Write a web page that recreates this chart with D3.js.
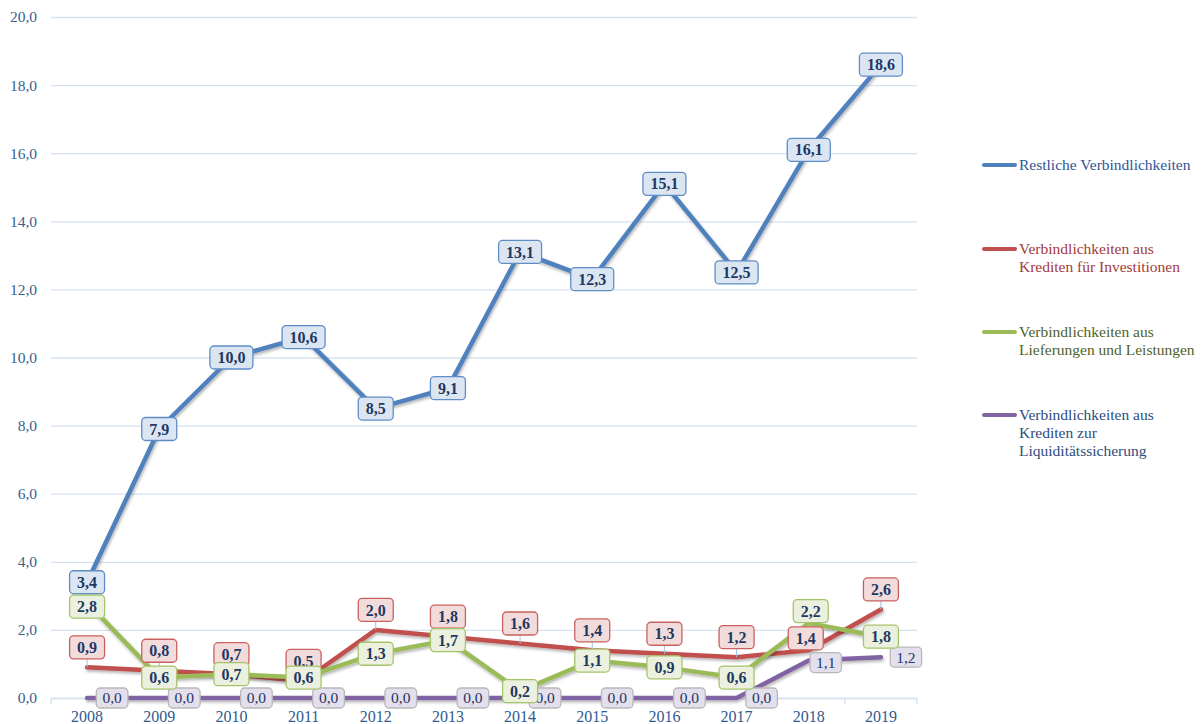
<!DOCTYPE html>
<html>
<head>
<meta charset="utf-8">
<script src="https://cdn.jsdelivr.net/npm/d3@7"></script>
<style>
  body { margin: 0; background: #fff; }
  text { font-family: "Liberation Serif", "DejaVu Serif", serif; }
</style>
</head>
<body>
<div id="chart"></div>
<script>
// data
var years = ["2008","2009","2010","2011","2012","2013","2014","2015","2016","2017","2018","2019"];
var restliche   = [3.4, 7.9, 10.0, 10.6, 8.5, 9.1, 13.1, 12.3, 15.1, 12.5, 16.1, 18.6];
var investition = [0.9, 0.8, 0.7, 0.5, 2.0, 1.8, 1.6, 1.4, 1.3, 1.2, 1.4, 2.6];
var lieferungen = [2.8, 0.6, 0.7, 0.6, 1.3, 1.7, 0.2, 1.1, 0.9, 0.6, 2.2, 1.8];
var liquiditaet = [0.0, 0.0, 0.0, 0.0, 0.0, 0.0, 0.0, 0.0, 0.0, 0.0, 1.1, 1.2];
var yTicks = [0, 2, 4, 6, 8, 10, 12, 14, 16, 18, 20];

var series = [
  {name: ["Restliche Verbindlichkeiten"], values: restliche,
   color: "#4F81BD", fill: "#DCE6F2", stroke: "#5F8DC6", legendColor: "#2F5597",
   bold: true, dx: 0, dy: 0, legendY: 165},
  {name: ["Verbindlichkeiten aus", "Krediten für Investitionen"], values: investition,
   color: "#C0504D", fill: "#F2DCDB", stroke: "#C9625F", legendColor: "#A33B38",
   bold: true, dx: 0, dy: -20, legendY: 249, leader: true},
  {name: ["Verbindlichkeiten aus", "Lieferungen und Leistungen"], values: lieferungen,
   color: "#9BBB59", fill: "#EBF1DE", stroke: "#A5C46A", legendColor: "#4F6228",
   bold: true, dx: 0, dy: 0, legendY: 332},
  {name: ["Verbindlichkeiten aus", "Krediten zur", "Liquiditätssicherung"], values: liquiditaet,
   color: "#8064A2", fill: "#E4DFEC", stroke: "#B8B8B8", legendColor: "#2E4C7D",
   bold: false, dx: 25, dy: 0, legendY: 415}
];

// label nudges where Excel moved labels to avoid overlaps
var nudges = {"1-10": [-3, -12], "2-10": [2, -12], "2-0": [0, 4], "3-10": [17, 2]};
// label drawing order (purple under the others, green on top)
var labelOrder = [3, 0, 1, 2];

var width = 1204, height = 724;
var plot = {left: 51, right: 917, top: 17, bottom: 698};

var svg = d3.select("#chart").append("svg")
  .attr("width", width)
  .attr("height", height);

var defs = svg.append("defs");
var f = defs.append("filter").attr("id", "shadow")
  .attr("x", "-5%").attr("y", "-5%").attr("width", "110%").attr("height", "120%");
f.append("feDropShadow").attr("dx", 1).attr("dy", 2).attr("stdDeviation", 1.5)
  .attr("flood-color", "#000").attr("flood-opacity", 0.3);

var x = d3.scaleBand().domain(years).range([plot.left, plot.right]);
var cx = function(d) { return x(d) + x.bandwidth() / 2; };
var y = d3.scaleLinear().domain([0, 20]).range([plot.bottom, plot.top]);

var de = d3.formatLocale({decimal: ",", thousands: ".", grouping: [3], currency: ["", "€"]});
var fmt = de.format(".1f");

// y axis with gridlines
var yAxis = svg.append("g")
  .attr("transform", "translate(" + plot.left + ",0)")
  .call(d3.axisLeft(y).tickValues(yTicks).tickFormat(fmt)
    .tickSizeInner(-(plot.right - plot.left)).tickSizeOuter(0).tickPadding(14));
yAxis.select(".domain").remove();
yAxis.selectAll("line").attr("stroke", "#D6E2F2").attr("stroke-width", 1.3);
yAxis.selectAll("text")
  .style("font-size", "15.5px")
  .attr("fill", "#3A5F8F");

// x axis
var xAxis = svg.append("g")
  .attr("transform", "translate(0," + plot.bottom + ")")
  .call(d3.axisBottom(x).tickSize(0).tickPadding(13));
xAxis.select(".domain").attr("stroke", "#D6E2F2").attr("stroke-width", 1.3);
xAxis.selectAll("text")
  .style("font-size", "16px")
  .attr("fill", "#2F5A8F");
xAxis.selectAll(".bound")
  .data(years.concat(["end"]))
  .enter().append("line")
    .attr("x1", function(d) { return d == "end" ? plot.right : x(d); })
    .attr("x2", function(d) { return d == "end" ? plot.right : x(d); })
    .attr("y1", 0).attr("y2", 6)
    .attr("stroke", "#D6E2F2").attr("stroke-width", 1.3);

// lines
var line = d3.line()
  .x(function(d, i) { return cx(years[i]); })
  .y(function(d) { return y(d); });

series.forEach(function(s) {
  svg.append("path")
    .datum(s.values)
    .attr("d", line)
    .attr("fill", "none")
    .attr("stroke", s.color)
    .attr("stroke-width", 4.5)
    .attr("stroke-linecap", "round")
    .attr("stroke-linejoin", "round")
    .attr("filter", "url(#shadow)");
});

// data labels
var leaders = svg.append("g");
labelOrder.forEach(function(si) {
  var s = series[si];
  s.values.forEach(function(v, i) {
    var n = nudges[si + "-" + i];
    var dx = n ? (si == 3 ? n[0] : s.dx + n[0]) : s.dx;
    var dy = n ? (si == 1 ? n[1] : s.dy + n[1]) : s.dy;
    var px = cx(years[i]), py = y(v);
    if (s.leader && Math.abs(dy) > 12) {
      leaders.append("line")
        .attr("x1", px).attr("x2", px)
        .attr("y1", py).attr("y2", py + dy + 11)
        .attr("stroke", "#9DC3E6").attr("stroke-width", 1);
    }
    var g = svg.append("g").attr("transform", "translate(" + (px + dx) + "," + (py + dy) + ")");
    var rect = g.append("rect");
    var t = g.append("text")
      .attr("text-anchor", "middle")
      .attr("dy", "0.35em")
      .style("font-size", s.bold ? "16px" : "15.5px")
      .style("font-weight", s.bold ? "bold" : "normal")
      .attr("fill", "#1F3864")
      .text(fmt(v));
    var bb = t.node().getBBox();
    var padX = s.bold ? 7.5 : 6, h = s.bold ? 23 : 20;
    rect.attr("x", -bb.width / 2 - padX)
      .attr("y", -h / 2)
      .attr("width", bb.width + 2 * padX)
      .attr("height", h)
      .attr("rx", 4)
      .attr("fill", s.fill)
      .attr("stroke", s.stroke)
      .attr("stroke-width", 1.3);
  });
});

// legend
series.forEach(function(s) {
  svg.append("line")
    .attr("x1", 984).attr("x2", 1015)
    .attr("y1", s.legendY).attr("y2", s.legendY)
    .attr("stroke", s.color)
    .attr("stroke-width", 4)
    .attr("stroke-linecap", "round");
  var t = svg.append("text")
    .attr("x", 1019)
    .attr("y", s.legendY)
    .style("font-size", "15.5px")
    .attr("fill", s.legendColor);
  s.name.forEach(function(l, k) {
    t.append("tspan")
      .attr("x", 1019)
      .attr("dy", k == 0 ? "0.35em" : 18)
      .text(l);
  });
});
</script>
</body>
</html>
